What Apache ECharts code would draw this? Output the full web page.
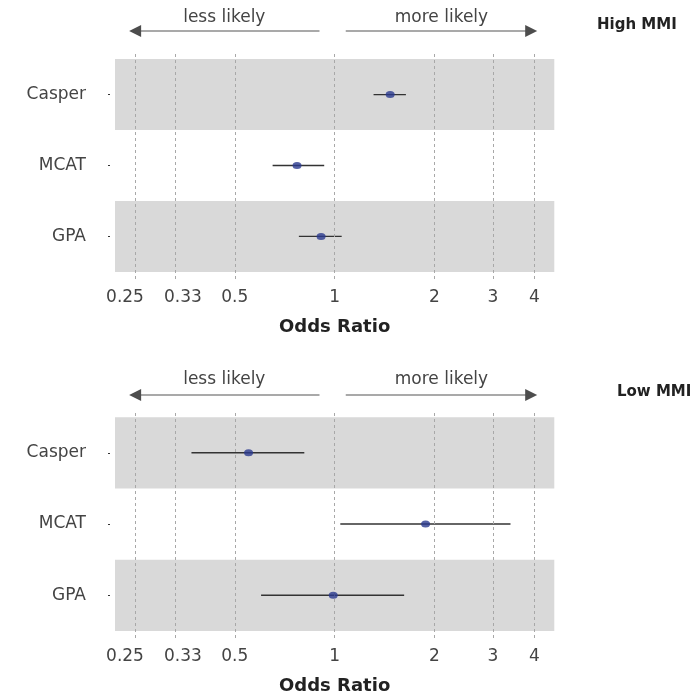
<!DOCTYPE html>
<html><head><meta charset="utf-8">
<script src="https://cdn.jsdelivr.net/npm/echarts@6/dist/echarts.min.js"></script>
<style>html,body{margin:0;padding:0;background:#fff}#c{width:690px;height:696px}</style>
</head><body><div id="c"></div>
<script>
// ---- data ----
const categories = ['Casper', 'MCAT', 'GPA'];
const tickValues = [0.25, 0.33, 0.5, 1, 2, 3, 4];
const tickLabels = ['0.25', '0.33', '0.5', '1', '2', '3', '4'];
const highOR = [1.47, 0.77, 0.91];
const highLo = [1.31, 0.65, 0.78];
const highHi = [1.64, 0.93, 1.05];
const lowOR = [0.55, 1.88, 0.99];
const lowLo = [0.37, 1.04, 0.60];
const lowHi = [0.81, 3.39, 1.62];
const panelTitles = ['High MMI', 'Low MMI'];
const directionLabels = ['less likely', 'more likely'];
const leftArrow = [0.9, 0.24];   // from, to (odds ratio)
const rightArrow = [1.08, 4.08];
const xRange = [0.2176, 4.595];

const FONT = 'DejaVu Sans';
const rowY = i => categories.length - i;  // Casper on top
// rich styles nudging the two crowded left-most tick labels apart
const labelStyleKey = ['a', 'b', '', '', '', '', ''];

function panel(idx, or, lo, hi) {
  const pts = or.map((v, i) => [v, rowY(i)]);
  const bars = lo.map((v, i) => [v, hi[i], rowY(i)]);
  return [
    { // bands
      type: 'scatter', xAxisIndex: idx, yAxisIndex: idx, data: [], z: 0, silent: true,
      markArea: { silent: true, itemStyle: { color: '#d9d9d9' },
        data: [[{ yAxis: 2.5 }, { yAxis: 3.5 }], [{ yAxis: 0.5 }, { yAxis: 1.5 }]] }
    },
    { // error bars + dashed gridlines
      type: 'custom', xAxisIndex: idx, yAxisIndex: idx, z: 2, silent: true,
      encode: { x: [0, 1], y: 2 },
      data: bars,
      renderItem: (params, api) => {
        const y = api.value(2);
        const p1 = api.coord([api.value(0), y]);
        const p2 = api.coord([api.value(1), y]);
        return { type: 'line', shape: { x1: p1[0], y1: p1[1], x2: p2[0], y2: p2[1] },
          style: { stroke: '#333', lineWidth: 1.3 } };
      },
      markLine: { silent: true, symbol: 'none', label: { show: false },
        lineStyle: { color: '#a8a8a8', type: [3, 3], width: 1 },
        data: tickValues.map(v => ({ xAxis: v })) }
    },
    { // points
      type: 'scatter', xAxisIndex: idx, yAxisIndex: idx, z: 5, silent: true,
      symbol: 'circle', symbolSize: [9, 7], itemStyle: { color: '#2a3a8f' },
      data: pts
    }
  ];
}

function xAxis(idx) {
  return {
    type: 'log', gridIndex: idx, min: xRange[0], max: xRange[1],
    name: 'Odds Ratio', nameLocation: 'middle', nameGap: 39,
    nameTextStyle: { fontFamily: FONT, fontWeight: 'bold', fontSize: 18, color: '#222' },
    axisLine: { show: false }, axisTick: { show: false }, splitLine: { show: false },
    axisLabel: {
      customValues: tickValues, margin: 10, fontFamily: FONT, fontSize: 17, color: '#444',
      rich: {
        a: { fontFamily: FONT, fontSize: 17, color: '#444', padding: [0, 20, 0, 0] },
        b: { fontFamily: FONT, fontSize: 17, color: '#444', padding: [0, 0, 0, 16] }
      },
      formatter: v => {
        let best = 0;
        tickValues.forEach((t, i) => { if (Math.abs(t - v) < Math.abs(tickValues[best] - v)) best = i; });
        const k = labelStyleKey[best];
        return k ? '{' + k + '|' + tickLabels[best] + '}' : tickLabels[best];
      }
    }
  };
}
function yAxis(idx) {
  return {
    type: 'value', gridIndex: idx, min: 0.4, max: 3.6, offset: 5,
    axisLine: { show: false }, splitLine: { show: false },
    axisTick: { show: true, customValues: [1, 2, 3], length: 2, lineStyle: { color: '#333' } },
    axisLabel: { customValues: [1, 2, 3], margin: 24, fontFamily: FONT, fontSize: 17, color: '#444',
      formatter: v => categories[categories.length - Math.round(v)] }
  };
}

const chart = echarts.init(document.getElementById('c'), null, { renderer: 'canvas' });
const grids = [
  { left: 115, right: 135.7, top: 52, height: 227 },
  { left: 115, right: 135.7, top: 410, height: 228 }
];
chart.setOption({
  animation: false,
  backgroundColor: '#fff',
  grid: grids,
  xAxis: [xAxis(0), xAxis(1)],
  yAxis: [yAxis(0), yAxis(1)],
  series: [...panel(0, highOR, highLo, highHi), ...panel(1, lowOR, lowLo, lowHi)]
});

// header annotations (arrows, labels, titles) placed via the x axes
const graphics = [];
const headerY = [[31, 17.7, 25, 597], [395, 380, 392, 617]];
[0, 1].forEach(idx => {
  const px = v => chart.convertToPixel({ xAxisIndex: idx }, v);
  const [ay, ty, titleY, titleX] = headerY[idx];
  const head = 12, hw = 6;
  const l0 = px(leftArrow[0]), l1 = px(leftArrow[1]);
  graphics.push({ type: 'line', shape: { x1: l0, y1: ay, x2: l1 + head - 1, y2: ay }, style: { stroke: '#8c8c8c', lineWidth: 1.6 } });
  graphics.push({ type: 'polygon', shape: { points: [[l1, ay], [l1 + head, ay - hw], [l1 + head, ay + hw]] }, style: { fill: '#4d4d4d' } });
  const r0 = px(rightArrow[0]), r1 = px(rightArrow[1]);
  graphics.push({ type: 'line', shape: { x1: r0, y1: ay, x2: r1 - head + 1, y2: ay }, style: { stroke: '#8c8c8c', lineWidth: 1.6 } });
  graphics.push({ type: 'polygon', shape: { points: [[r1, ay], [r1 - head, ay - hw], [r1 - head, ay + hw]] }, style: { fill: '#4d4d4d' } });
  const lm = px(Math.sqrt(leftArrow[0] * leftArrow[1]));
  const rm = px(Math.sqrt(rightArrow[0] * rightArrow[1]));
  graphics.push({ type: 'text', x: lm, y: ty, style: { text: directionLabels[0], font: '17px "' + FONT + '"', fill: '#444', align: 'center', verticalAlign: 'middle' } });
  graphics.push({ type: 'text', x: rm, y: ty, style: { text: directionLabels[1], font: '17px "' + FONT + '"', fill: '#444', align: 'center', verticalAlign: 'middle' } });
  graphics.push({ type: 'text', x: titleX, y: titleY, style: { text: panelTitles[idx], font: 'bold 15px "' + FONT + '"', fill: '#222', align: 'left', verticalAlign: 'middle' } });
});
chart.setOption({ graphic: graphics });
</script>
</body></html>
